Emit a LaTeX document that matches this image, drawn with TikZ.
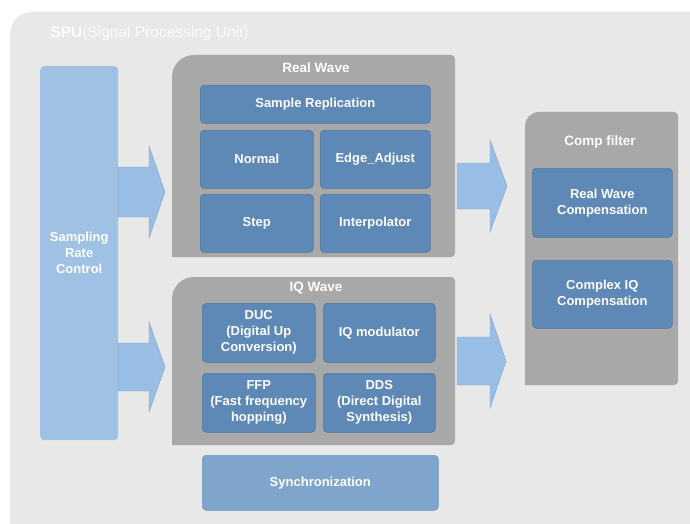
\documentclass[tikz,border=0pt]{standalone}
\usepackage{fontspec}
\setmainfont{Liberation Sans}
\definecolor{bggray}{HTML}{E8E8E8}
\definecolor{panelgray}{HTML}{A8A8A8}
\definecolor{unitblue}{HTML}{5E88B6}
\definecolor{unitedge}{HTML}{50779F}
\definecolor{syncblue}{HTML}{7FA5CD}
\definecolor{srcblue}{HTML}{9FC1E3}
\definecolor{arrowblue}{HTML}{98BEE5}
\tikzset{
  unit/.style={fill=unitblue, draw=unitedge, line width=0.6pt, rounded corners=4pt,
    anchor=north west, inner sep=2pt, align=center, text=white,
    font=\fontsize{13}{16}\selectfont\bfseries},
  paneltitle/.style={text=white, font=\fontsize{13.5}{16}\selectfont\bfseries},
  panelfill/.style={fill=panelgray},
  bigarrow/.style={fill=arrowblue, draw=arrowblue!85!black, line width=0.4pt}
}
\begin{document}
\begin{tikzpicture}[x=1pt,y=-1pt]
  \useasboundingbox (0,0) rectangle (690,524);
  \fill[white] (0,0) rectangle (690,524);
  % Nền SPU
  \fill[bggray] (10,524) [rounded corners=22pt] -- (10,12) [rounded corners=0pt] -- (690,12) -- (690,524) -- cycle;
  \node[anchor=west, text=white!97!gray, font=\fontsize{15.5}{18}\selectfont] (spu) at (47,33)
    {\textbf{SPU}(Signal Processing Unit)};
  % Lệnh vẽ khung xám: #1 x1, #2 y1, #3 x2, #4 y2, #5 bán kính góc
  \def\drawpanel#1#2#3#4#5{
    \fill[panelfill] (#1,#4) [rounded corners=#5] -- (#1,#2) [rounded corners=4pt] -- (#3,#2) -- (#3,#4) [rounded corners=0pt] -- cycle;
  }
  % Lệnh vẽ mũi tên lớn: #1 x gốc, #2 x đầu, #3 x đỉnh, #4 y giữa, #5 nửa thân, #6 nửa đầu
  \def\drawarrow#1#2#3#4#5#6{
    \filldraw[bigarrow] (#1,#4-#5) -- (#2,#4-#5) -- (#2,#4-#6) -- (#3,#4)
      -- (#2,#4+#6) -- (#2,#4+#5) -- (#1,#4+#5) -- cycle;
  }
  % Sampling Rate Control
  \node[fill=srcblue, rounded corners=4pt, anchor=north west, minimum width=78pt, minimum height=374pt,
    align=center, text=white, font=\fontsize{13}{16}\selectfont\bfseries] (src) at (40,66)
    {Sampling\\Rate\\Control};
  % Mũi tên vào
  \drawarrow{118}{149}{165}{192}{25}{46}
  \drawarrow{118}{149}{165}{367}{24}{45}
  % Real Wave
  \drawpanel{172}{55}{455}{257}{22pt}
  \node[paneltitle] (realtitle) at (316,68) {Real Wave};
  \node[unit, minimum width=230pt, minimum height=38pt] (rep) at (200,85) {Sample Replication};
  \node[unit, minimum width=113pt, minimum height=58pt] (normal) at (200,130) {Normal};
  \node[unit, minimum width=110pt, minimum height=58pt] (edge) at (320,130) {Edge\_Adjust};
  \node[unit, minimum width=113pt, minimum height=58pt] (stepbox) at (200,194) {Step};
  \node[unit, minimum width=110pt, minimum height=58pt] (interp) at (320,194) {Interpolator};
  % IQ Wave
  \drawpanel{172}{277}{455}{445}{22pt}
  \node[paneltitle] (iqtitle) at (316,288) {IQ Wave};
  \node[unit, minimum width=113pt, minimum height=59pt] (duc) at (202,303) {DUC\\(Digital Up\\Conversion)};
  \node[unit, minimum width=112pt, minimum height=59pt] (iqmod) at (323,303) {IQ modulator};
  \node[unit, minimum width=113pt, minimum height=59pt] (ffp) at (202,373) {FFP\\(Fast frequency\\hopping)};
  \node[unit, minimum width=112pt, minimum height=59pt] (dds) at (323,373) {DDS\\(Direct Digital\\Synthesis)};
  % Synchronization
  \node[unit, fill=syncblue, draw=syncblue!90!black, minimum width=236pt, minimum height=55pt] (sync) at (202,455) {Synchronization};
  % Mũi tên ra
  \drawarrow{457}{490}{507}{186}{23}{46}
  \drawarrow{457}{490}{506}{361}{24}{47}
  % Comp filter
  \drawpanel{525}{112}{678}{385}{14pt}
  \node[paneltitle] (comptitle) at (600,142) {Comp filter};
  \node[unit, minimum width=140pt, minimum height=69pt] (realcomp) at (532,168) {Real Wave\\Compensation};
  \node[unit, minimum width=140pt, minimum height=68pt] (iqcomp) at (532,260) {Complex IQ\\Compensation};
\end{tikzpicture}
\end{document}
